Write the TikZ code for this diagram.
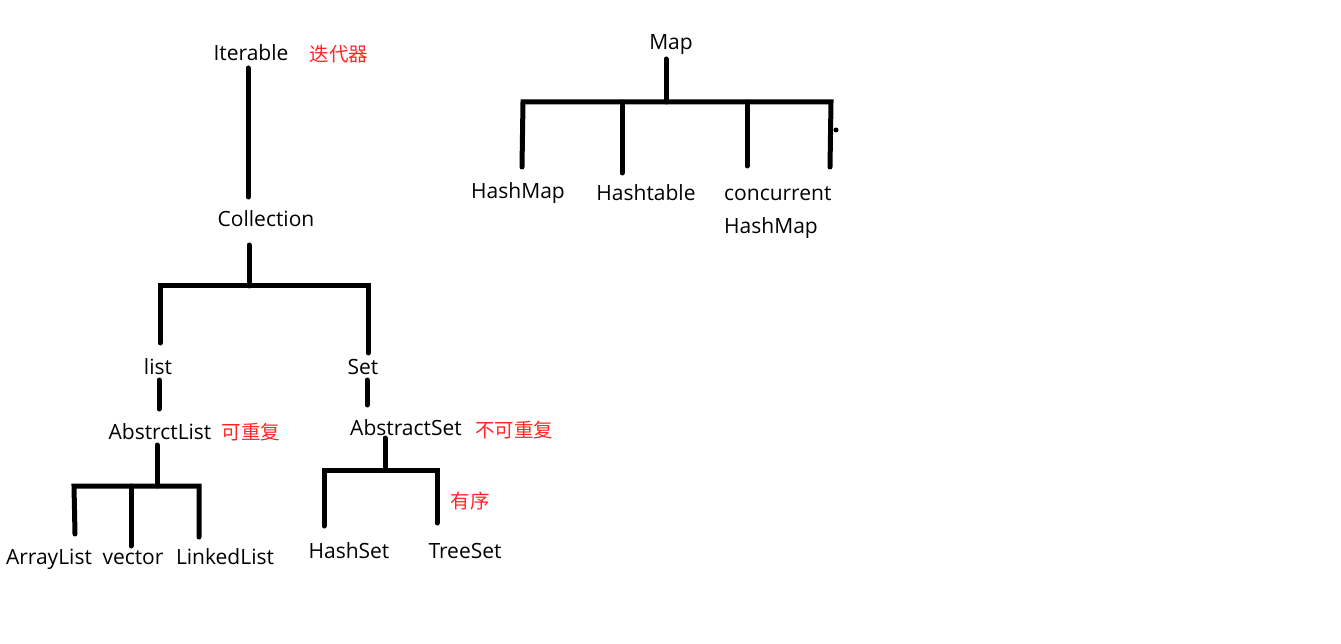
\documentclass[tikz,border=0pt]{standalone}
\usepackage{fontspec}
\setmainfont{Open Sans}
\newfontfamily\cjk{Noto Sans CJK SC}
\begin{document}
\begin{tikzpicture}[x=1pt,y=-1pt,
  lbl/.style={inner sep=0pt,anchor=base,font=\fontsize{21}{26}\selectfont},
  note/.style={inner sep=0pt,text=red!85!white,font=\cjk\fontsize{19.5}{22}\selectfont},
  bar/.style={line width=5pt,line cap=round}]
\useasboundingbox (0,0) rectangle (1341,644);
% text nodes
\node[lbl] (iter) at (251,61) {Iterable};
\node[note] (iternote) at (339,54) {迭代器};
\node[lbl] (coll) at (266,227) {Collection};
\node[lbl] (list) at (158,374) {list};
\node[lbl] (set) at (363,374) {Set};
\node[lbl] (alist) at (160,439) {AbstrctList};
\node[note] (alistnote) at (251,432) {可重复};
\node[lbl] (aset) at (406,435) {AbstractSet};
\node[note] (asetnote) at (514,430) {不可重复};
\node[lbl] (arr) at (49,564) {ArrayList};
\node[lbl] (vec) at (133,564) {vector};
\node[lbl] (linked) at (225,564) {LinkedList};
\node[note] (order) at (470,501) {有序};
\node[lbl] (hset) at (349,558) {HashSet};
\node[lbl] (tset) at (465,558) {TreeSet};
\node[lbl] (map) at (671,50) {Map};
\node[lbl] (hmap) at (518,199) {HashMap};
\node[lbl] (htab) at (646,201) {Hashtable};
\node[lbl,anchor=base west] (chm) at (724,201) {concurrent};
\node[lbl,anchor=base west] (chm2) at (724,234) {HashMap};
% junction coordinates
\coordinate (i1) at (248,68);  \coordinate (i2) at (248,197);
\coordinate (c1) at (249,245); \coordinate (c2) at (249,286);
\coordinate (cl) at (160,286); \coordinate (cr) at (368,286);
\coordinate (l1) at (160,343); \coordinate (s1) at (368,353);
\coordinate (l2) at (159,380); \coordinate (l3) at (159,409);
\coordinate (s2) at (367,380); \coordinate (s3) at (367,405);
\coordinate (a1) at (157,445); \coordinate (a2) at (157,486);
\coordinate (al) at (74,486);  \coordinate (ar) at (199,486);
\coordinate (av) at (131,486);
\coordinate (arrt) at (75,534); \coordinate (vect) at (131,546); \coordinate (lkt) at (199,537);
\coordinate (b1) at (385,438); \coordinate (b2) at (385,470);
\coordinate (bl) at (324,470); \coordinate (br) at (437,470);
\coordinate (hst) at (324,526); \coordinate (tst) at (437,523);
\coordinate (m1) at (666,59);  \coordinate (m2) at (666,102);
\coordinate (ml) at (523,102); \coordinate (mr) at (831,102);
\coordinate (hmt) at (522,167); \coordinate (htt) at (622,173);
\coordinate (cht) at (747,166); \coordinate (mrt) at (830,167);
% connectors
\draw[bar] (i1) -- (i2);
\draw[bar] (c1) -- (c2);
\draw[bar] (l1) -- (cl) -- (cr) -- (s1);
\draw[bar] (l2) -- (l3);
\draw[bar] (s2) -- (s3);
\draw[bar] (a1) -- (a2);
\draw[bar] (arrt) -- (al) -- (ar) -- (lkt);
\draw[bar] (av) -- (vect);
\draw[bar] (b1) -- (b2);
\draw[bar] (hst) -- (bl) -- (br) -- (tst);
\draw[bar] (m1) -- (m2);
\draw[bar] (hmt) -- (ml) -- (mr) -- (mrt);
\draw[bar] (622,102) -- (htt);
\draw[bar] (747,102) -- (cht);
\fill (836,130) circle (2.5);
\end{tikzpicture}
\end{document}
